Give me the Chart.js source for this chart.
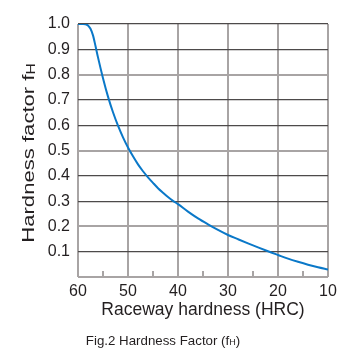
<!DOCTYPE html>
<html>
<head>
<meta charset="utf-8">
<script src="https://cdn.jsdelivr.net/npm/chart.js@4"></script>
<style>
  html, body { margin: 0; padding: 0; background: #fff; }
  #wrap { width: 361px; height: 363px; }
</style>
</head>
<body>
<div id="wrap"><canvas id="chart" width="361" height="363"></canvas></div>
<script>
// 读取自图中的曲线点 (HRC -> fH)
const hrc = [10, 12, 14, 16, 18, 20, 22, 24, 26, 28, 30, 32, 34, 36, 38, 40, 41, 42, 43, 44, 45, 46, 47, 48, 49, 50, 51, 52, 53, 54, 55, 56, 56.5, 57, 57.5, 58, 58.5, 59, 60]
const fH = [0.030, 0.0385, 0.0485, 0.060, 0.0726, 0.087, 0.1016, 0.117, 0.133, 0.1494, 0.166, 0.186, 0.208, 0.2315, 0.2584, 0.288, 0.301, 0.316, 0.333, 0.351, 0.372, 0.394, 0.418, 0.445, 0.477, 0.512, 0.552, 0.598, 0.651, 0.713, 0.786, 0.868, 0.913, 0.955, 0.981, 0.994, 0.999, 1.000, 1.000]

const xTicks = [60, 50, 40, 30, 20, 10]
const xMinorTicks = [55, 45, 35, 25, 15]
const yTicks = [0.1, 0.2, 0.3, 0.4, 0.5, 0.6, 0.7, 0.8, 0.9, 1.0]

const xTitle = "Raceway hardness (HRC)"
const yTitle = "Hardness factor f"
const caption = "Fig.2 Hardness Factor (f"
const sub = "H"

const FONT = "'Liberation Sans', Arial, sans-serif"

// 自定义标题、下标和内侧短刻度
const decor = {
  id: "decor",
  afterDraw(chart) {
    const { ctx, chartArea, scales } = chart
    const x = scales.x

    ctx.save()
    // 内侧短刻度
    ctx.strokeStyle = "#a8a4a4"
    ctx.lineWidth = 2
    xMinorTicks.forEach(v => {
      const px = Math.round(x.getPixelForValue(v))
      ctx.beginPath()
      ctx.moveTo(px, chartArea.bottom)
      ctx.lineTo(px, chartArea.bottom - 6)
      ctx.stroke()
    })

    ctx.fillStyle = "#231f20"
    ctx.textBaseline = "middle"

    // X 轴标题
    ctx.font = "17.5px " + FONT
    ctx.textAlign = "center"
    ctx.fillText(xTitle, (chartArea.left + chartArea.right) / 2, 310)

    // Y 轴标题 (带下标, 沿基线拉伸)
    ctx.save()
    ctx.translate(29, 153)
    ctx.rotate(-Math.PI / 2)
    ctx.scale(1.3, 1)
    ctx.font = "17px " + FONT
    const w1 = ctx.measureText(yTitle).width
    ctx.font = "12px " + FONT
    const w2 = ctx.measureText(sub).width
    ctx.textAlign = "left"
    ctx.font = "17px " + FONT
    ctx.fillText(yTitle, -(w1 + w2) / 2, 0)
    ctx.font = "12px " + FONT
    ctx.fillText(sub, -(w1 + w2) / 2 + w1, 3)
    ctx.restore()

    // 图注
    ctx.textAlign = "left"
    ctx.font = "13.3px " + FONT
    const c1 = ctx.measureText(caption).width
    ctx.font = "9px " + FONT
    const c2 = ctx.measureText(sub).width
    ctx.font = "13.3px " + FONT
    const c3 = ctx.measureText(")").width
    let cx = 163 - (c1 + c2 + c3) / 2
    ctx.fillText(caption, cx, 341)
    ctx.font = "9px " + FONT
    ctx.fillText(sub, cx + c1, 343)
    ctx.font = "13.3px " + FONT
    ctx.fillText(")", cx + c1 + c2, 341)
    ctx.restore()
  }
}

const ctx = document.getElementById("chart").getContext("2d")
new Chart(ctx, {
  type: "scatter",
  data: {
    datasets: [{
      data: hrc.map((h, i) => ({ x: h, y: fH[i] })),
      showLine: true,
      borderColor: "#0a78c8",
      borderWidth: 2,
      pointRadius: 0,
      cubicInterpolationMode: "monotone"
    }]
  },
  options: {
    responsive: false,
    animation: false,
    layout: { padding: { top: 24, right: 33, left: 0, bottom: 0 } },
    plugins: { legend: { display: false }, tooltip: { enabled: false } },
    scales: {
      x: {
        type: "linear",
        reverse: true,
        min: 10,
        max: 60,
        afterBuildTicks: s => { s.ticks = xTicks.map(v => ({ value: v })) },
        afterFit: s => { s.height = 86 },
        border: { display: false },
        grid: {
          color: "#a8a4a4",
          lineWidth: 2,
          drawTicks: false
        },
        ticks: {
          color: "#231f20",
          font: { family: FONT, size: 16 },
          padding: 5,
          maxRotation: 0
        }
      },
      y: {
        min: 0,
        max: 1.0,
        afterBuildTicks: s => { s.ticks = [{ value: 0 }].concat(yTicks.map(v => ({ value: v }))) },
        afterFit: s => { s.width = 78 },
        border: { display: false },
        grid: {
          color: c => {
            const v = Math.round(c.tick.value * 10)
            if (v === 0) return "#a8a4a4"
            return (v === 2 || v === 5 || v === 8) ? "#a8a4a4" : "#4d4a4a"
          },
          lineWidth: c => {
            const v = Math.round(c.tick.value * 10)
            return (v === 0 || v === 2 || v === 5 || v === 8) ? 2 : 1.2
          },
          drawTicks: false
        },
        ticks: {
          color: "#231f20",
          font: { family: FONT, size: 16 },
          padding: 8,
          callback: v => v === 0 ? "" : v.toFixed(1)
        }
      }
    }
  },
  plugins: [decor]
})
</script>
</body>
</html>
